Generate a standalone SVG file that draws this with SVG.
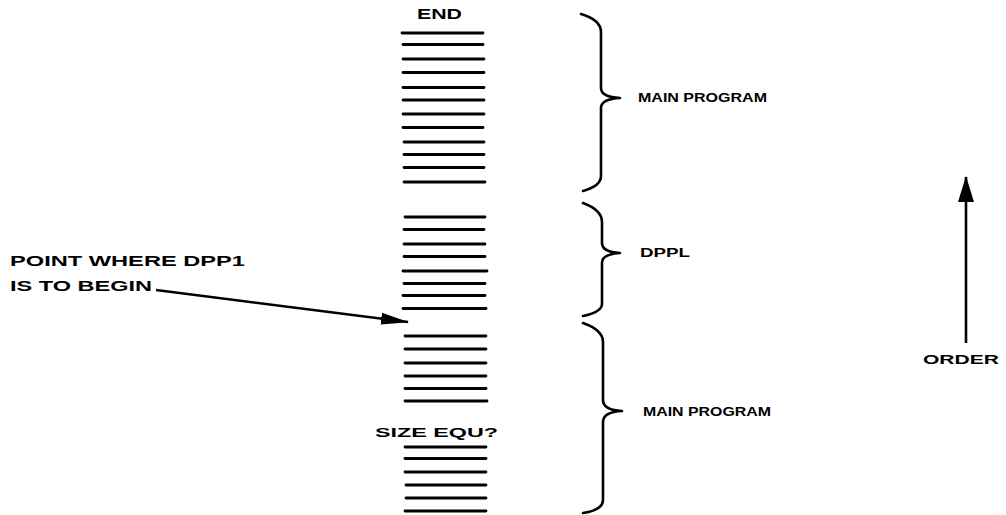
<svg xmlns="http://www.w3.org/2000/svg" width="1006" height="515" viewBox="0 0 1006 515">
  <defs>
    <style>
      .bg { fill: #ffffff; }
      .rule { stroke: #000; stroke-width: 2.8; stroke-linecap: round; fill: none; }
      .brace { stroke: #000; stroke-width: 2.6; fill: none; stroke-linecap: round; stroke-linejoin: round; }
      .shaft { stroke: #000; stroke-width: 2.6; fill: none; }
      .lbl { font-family: "Liberation Sans", Arial, sans-serif; font-weight: bold; fill: #000; }
    </style>
    <marker id="head" viewBox="0 0 28 14" refX="27" refY="7" markerWidth="28" markerHeight="14" markerUnits="userSpaceOnUse" orient="auto">
      <path d="M0,1 L28,7 L0,13 Z" fill="#000"/>
    </marker>
    <marker id="headUp" viewBox="0 0 26 16" refX="25" refY="8" markerWidth="26" markerHeight="16" markerUnits="userSpaceOnUse" orient="auto">
      <path d="M0,0 L26,8 L0,16 Z" fill="#000"/>
    </marker>
  </defs>

  <rect class="bg" x="0" y="0" width="1006" height="515"/>

  <!-- upper main program block -->
  <g id="stack-main-top">
    <text class="lbl" x="417" y="19" font-size="14" textLength="45" lengthAdjust="spacingAndGlyphs">END</text>
    <line class="rule" x1="402" y1="33" x2="483" y2="33"/>
    <line class="rule" x1="403" y1="44.5" x2="483" y2="44.5"/>
    <line class="rule" x1="403" y1="59" x2="484" y2="59"/>
    <line class="rule" x1="403" y1="72.5" x2="484" y2="72.5"/>
    <line class="rule" x1="403" y1="87.5" x2="484" y2="87.5"/>
    <line class="rule" x1="403" y1="100" x2="484" y2="100"/>
    <line class="rule" x1="403" y1="114" x2="484" y2="114"/>
    <line class="rule" x1="403" y1="127.5" x2="483" y2="127.5"/>
    <line class="rule" x1="404" y1="142" x2="484" y2="142"/>
    <line class="rule" x1="404" y1="154.5" x2="484" y2="154.5"/>
    <line class="rule" x1="404" y1="167.5" x2="484" y2="167.5"/>
    <line class="rule" x1="404" y1="182" x2="485" y2="182"/>
  </g>

  <!-- DPPL block -->
  <g id="stack-dppl">
    <line class="rule" x1="405" y1="217" x2="485" y2="217"/>
    <line class="rule" x1="404" y1="229.5" x2="484" y2="229.5"/>
    <line class="rule" x1="404" y1="244" x2="485" y2="244"/>
    <line class="rule" x1="404" y1="256.5" x2="485" y2="256.5"/>
    <line class="rule" x1="403" y1="271" x2="487" y2="271"/>
    <line class="rule" x1="404" y1="283.5" x2="485" y2="283.5"/>
    <line class="rule" x1="403" y1="295.5" x2="485" y2="295.5"/>
    <line class="rule" x1="403" y1="308.5" x2="486" y2="308.5"/>
  </g>

  <!-- lower main program block -->
  <g id="stack-main-bottom">
    <line class="rule" x1="405" y1="336" x2="486" y2="336"/>
    <line class="rule" x1="405" y1="349" x2="486" y2="349"/>
    <line class="rule" x1="405" y1="363" x2="486" y2="363"/>
    <line class="rule" x1="405" y1="376" x2="486" y2="376"/>
    <line class="rule" x1="405" y1="388.5" x2="486" y2="388.5"/>
    <line class="rule" x1="405" y1="401" x2="487" y2="401"/>
    <text class="lbl" x="375" y="437" font-size="13.5" textLength="123" lengthAdjust="spacingAndGlyphs">SIZE EQU?</text>
    <line class="rule" x1="405" y1="447" x2="486" y2="447"/>
    <line class="rule" x1="405" y1="458.5" x2="486" y2="458.5"/>
    <line class="rule" x1="405" y1="472" x2="486" y2="472"/>
    <line class="rule" x1="406" y1="485" x2="486" y2="485"/>
    <line class="rule" x1="406" y1="498" x2="486" y2="498"/>
    <line class="rule" x1="405" y1="511" x2="486" y2="511"/>
  </g>

  <!-- braces with their labels -->
  <g id="brace-main-top">
    <path class="brace" d="M581,14 Q601,20 601,32 L601,88 Q601,97 620,98 Q601,99 601,108 L601,176 Q601,186 583,191"/>
    <text class="lbl" x="638" y="101.5" font-size="12.5" textLength="129" lengthAdjust="spacingAndGlyphs">MAIN PROGRAM</text>
  </g>

  <g id="brace-dppl">
    <path class="brace" d="M583,203 Q602,210 602,222 L602,243 Q602,252 620,253 Q602,254 602,263 L602,304 Q602,312 583,316"/>
    <text class="lbl" x="640" y="257" font-size="12.5" textLength="50" lengthAdjust="spacingAndGlyphs">DPPL</text>
  </g>

  <g id="brace-main-bottom">
    <path class="brace" d="M583,323 Q603,330 603,342 L603,400 Q603,410 622,411 Q603,412 603,422 L603,500 Q603,510 583,513"/>
    <text class="lbl" x="643" y="416" font-size="12.5" textLength="128" lengthAdjust="spacingAndGlyphs">MAIN PROGRAM</text>
  </g>

  <!-- callout label -->
  <g id="note-dpp1">
    <text class="lbl" x="10" y="266" font-size="14" textLength="235" lengthAdjust="spacingAndGlyphs">POINT WHERE DPP1</text>
    <text class="lbl" x="10" y="291" font-size="14" textLength="142" lengthAdjust="spacingAndGlyphs">IS TO BEGIN</text>
  </g>

  <!-- order indicator -->
  <g id="order">
    <text class="lbl" x="923" y="364" font-size="12.5" textLength="76" lengthAdjust="spacingAndGlyphs">ORDER</text>
  </g>

  <g id="connectors">
    <line class="shaft" x1="156" y1="290" x2="408" y2="322" marker-end="url(#head)"/>
    <line class="shaft" x1="966" y1="343" x2="966" y2="177" marker-end="url(#headUp)"/>
  </g>
</svg>
